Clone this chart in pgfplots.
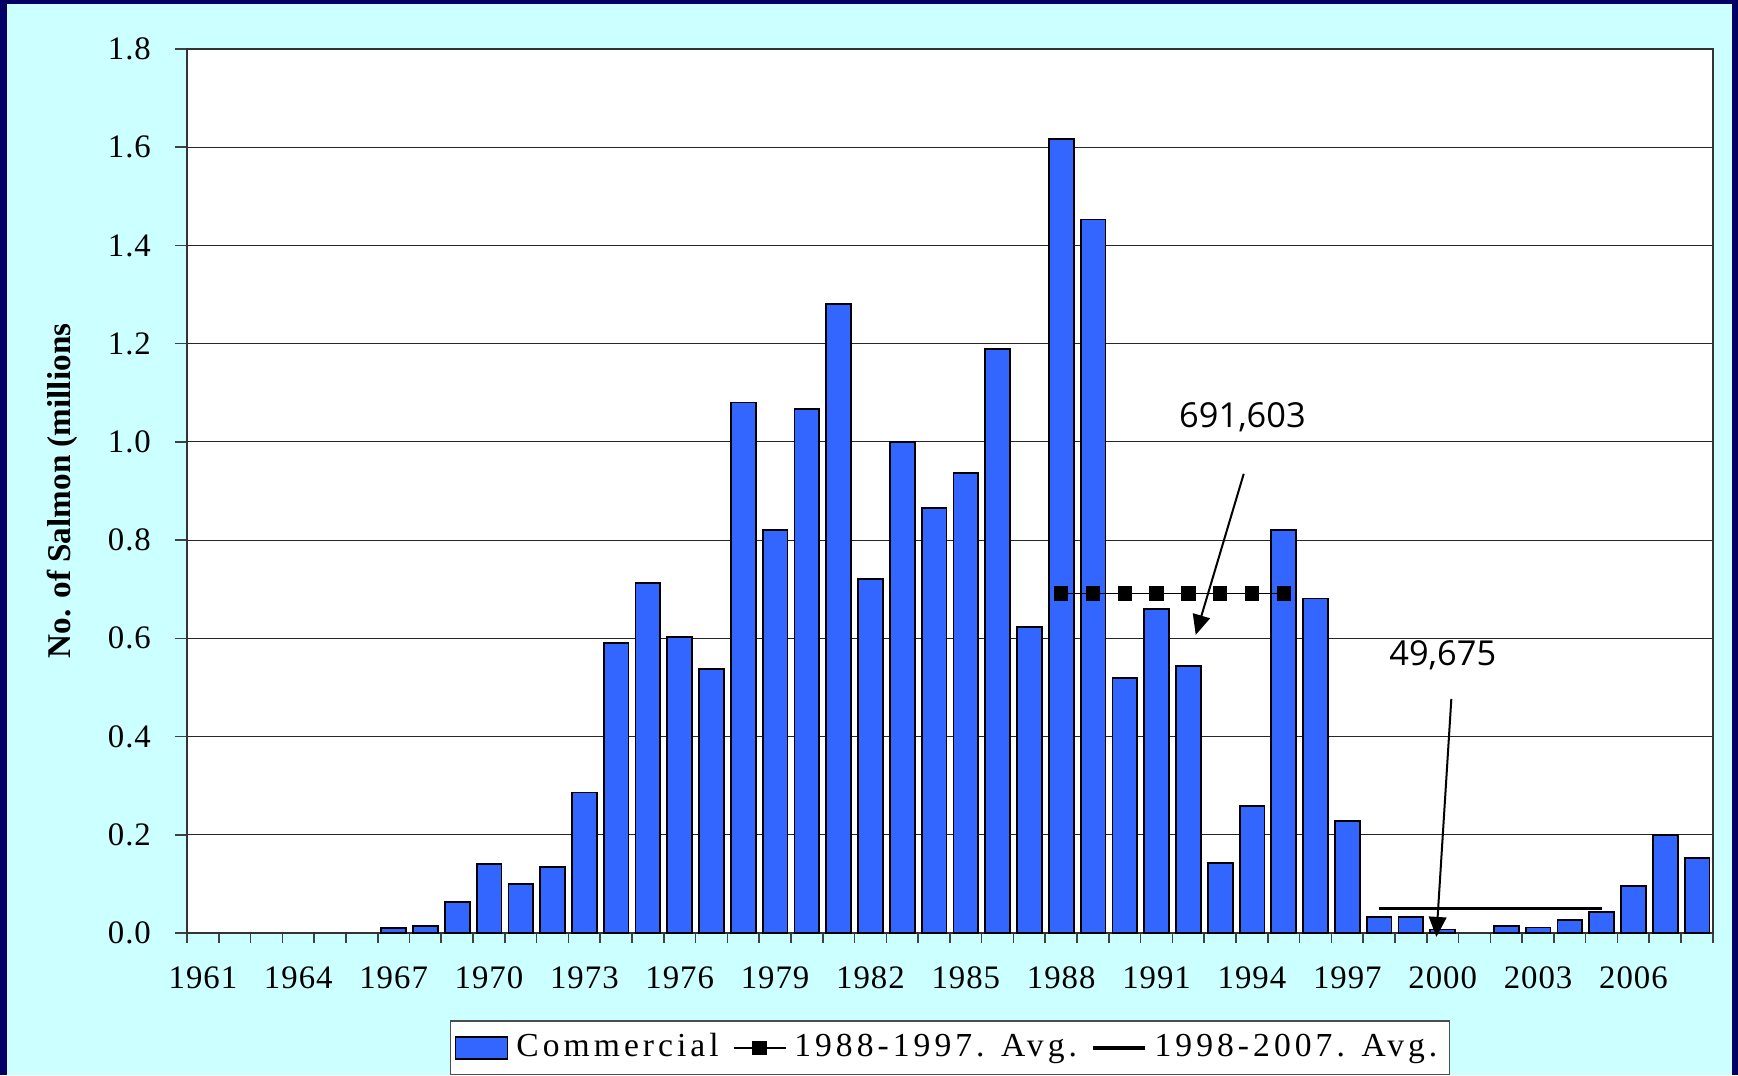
\documentclass[border=0pt]{standalone}
\usepackage{fontspec}
\setmainfont{Liberation Serif}
\newfontfamily\annfont{Open Sans}
\newfontfamily\tickfam[LetterSpace=3]{Liberation Serif}
\newfontfamily\legfam[LetterSpace=12]{Liberation Serif}
\usepackage{pgfplots}
\pgfplotsset{compat=1.18}
\usetikzlibrary{arrows.meta}
\definecolor{navyframe}{HTML}{000066}
\definecolor{paleaqua}{HTML}{CCFFFF}
\definecolor{barblue}{HTML}{3366FF}

% commercial catch, millions of salmon
\pgfplotstableread{
year val
1967 0.010
1968 0.015
1969 0.063
1970 0.140
1971 0.099
1972 0.135
1973 0.286
1974 0.591
1975 0.713
1976 0.602
1977 0.537
1978 1.080
1979 0.821
1980 1.067
1981 1.281
1982 0.720
1983 0.999
1984 0.866
1985 0.936
1986 1.189
1987 0.623
1988 1.617
1989 1.453
1990 0.519
1991 0.659
1992 0.544
1993 0.142
1994 0.259
1995 0.821
1996 0.681
1997 0.228
1998 0.032
1999 0.032
2000 0.007
2002 0.014
2003 0.011
2004 0.027
2005 0.043
2006 0.095
2007 0.199
2008 0.153
}\catch

\begin{document}
\begin{tikzpicture}
\fill[navyframe] (0,0) rectangle (434.5pt,268.75pt);
\fill[paleaqua] (1.75pt,0) rectangle (433pt,267.75pt);
\begin{axis}[
  at={(46.75pt,35.5pt)}, anchor=south west,
  scale only axis, width=381.5pt, height=221pt,
  xmin=1960.5, xmax=2008.5, ymin=0, ymax=1.8,
  axis background/.style={fill=white},
  axis line style={black!80, line width=0.4pt},
  clip=false,
  xtick={1961,1964,...,2006},
  minor xtick={1960.5,1961.5,...,2008.5},
  major x tick style={draw=none},
  ytick={0,0.2,...,1.8},
  xtick pos=lower, ytick pos=left,
  tick align=outside, major tick length=3pt, minor tick length=2.5pt,
  tick style={black!75, line width=0.4pt},
  ymajorgrids, grid style={black!85, line width=0.3pt},
  /pgf/number format/assume math mode=true,
  x tick label style={font=\tickfam\fontsize{8.2pt}{9pt}\selectfont, /pgf/number format/1000 sep={}, yshift=-2pt},
  y tick label style={font=\tickfam\fontsize{8.2pt}{9pt}\selectfont, /pgf/number format/.cd, fixed, fixed zerofill, precision=1, /tikz/.cd, xshift=-2.5pt},
  ylabel={No. of Salmon (millions},
  every axis y label/.style={at={(axis description cs:-0.0815,0.5)}, rotate=90, anchor=center, font=\bfseries\fontsize{8.3pt}{9pt}\selectfont},
  legend style={at={(0.5,-0.130)}, anchor=center, draw=black!70, fill=white, line width=0.4pt,
    font=\legfam\fontsize{8.4pt}{9pt}\selectfont, inner sep=1pt,
    /tikz/every even column/.append style={column sep=1.5pt}},
  legend columns=3,
  legend image code/.code={\draw[mark repeat=2,mark phase=2,#1] plot coordinates {(0pt,0pt) (6.5pt,0pt) (13pt,0pt)};},
]
\addplot[ybar, bar width=6.2pt, fill=barblue, draw=black, line width=0.45pt,
  legend image code/.code={\draw[fill=barblue, draw=black, line width=0.45pt] (0pt,-2.7pt) rectangle (13pt,2.7pt);}]
  table[x=year, y=val] {\catch};
\addplot[sharp plot, black, line width=0.4pt, mark=square*, mark size=1.6pt] coordinates {
  (1988,0.691603) (1989,0.691603) (1990,0.691603) (1991,0.691603)
  (1992,0.691603) (1993,0.691603) (1994,0.691603) (1995,0.691603)};
\addplot[sharp plot, black, line width=0.9pt, mark=none] coordinates {
  (1998,0.049675) (2005,0.049675)};
\legend{Commercial, 1988-1997. Avg., 1998-2007. Avg.}

\node[font=\annfont\fontsize{8.6pt}{10pt}\selectfont] at (axis cs:1993.7,1.051) {691,603};
\draw[black, line width=0.5pt, -{Triangle[length=5pt,width=4.4pt]}] (axis cs:1993.74,0.935) -- (axis cs:1992.23,0.607);
\node[font=\annfont\fontsize{8.6pt}{10pt}\selectfont] at (axis cs:2000.0,0.566) {49,675};
\draw[black, line width=0.5pt, -{Triangle[length=5pt,width=4.4pt]}] (axis cs:2000.27,0.4765) -- (axis cs:1999.8,-0.008);
\end{axis}
\end{tikzpicture}
\end{document}
